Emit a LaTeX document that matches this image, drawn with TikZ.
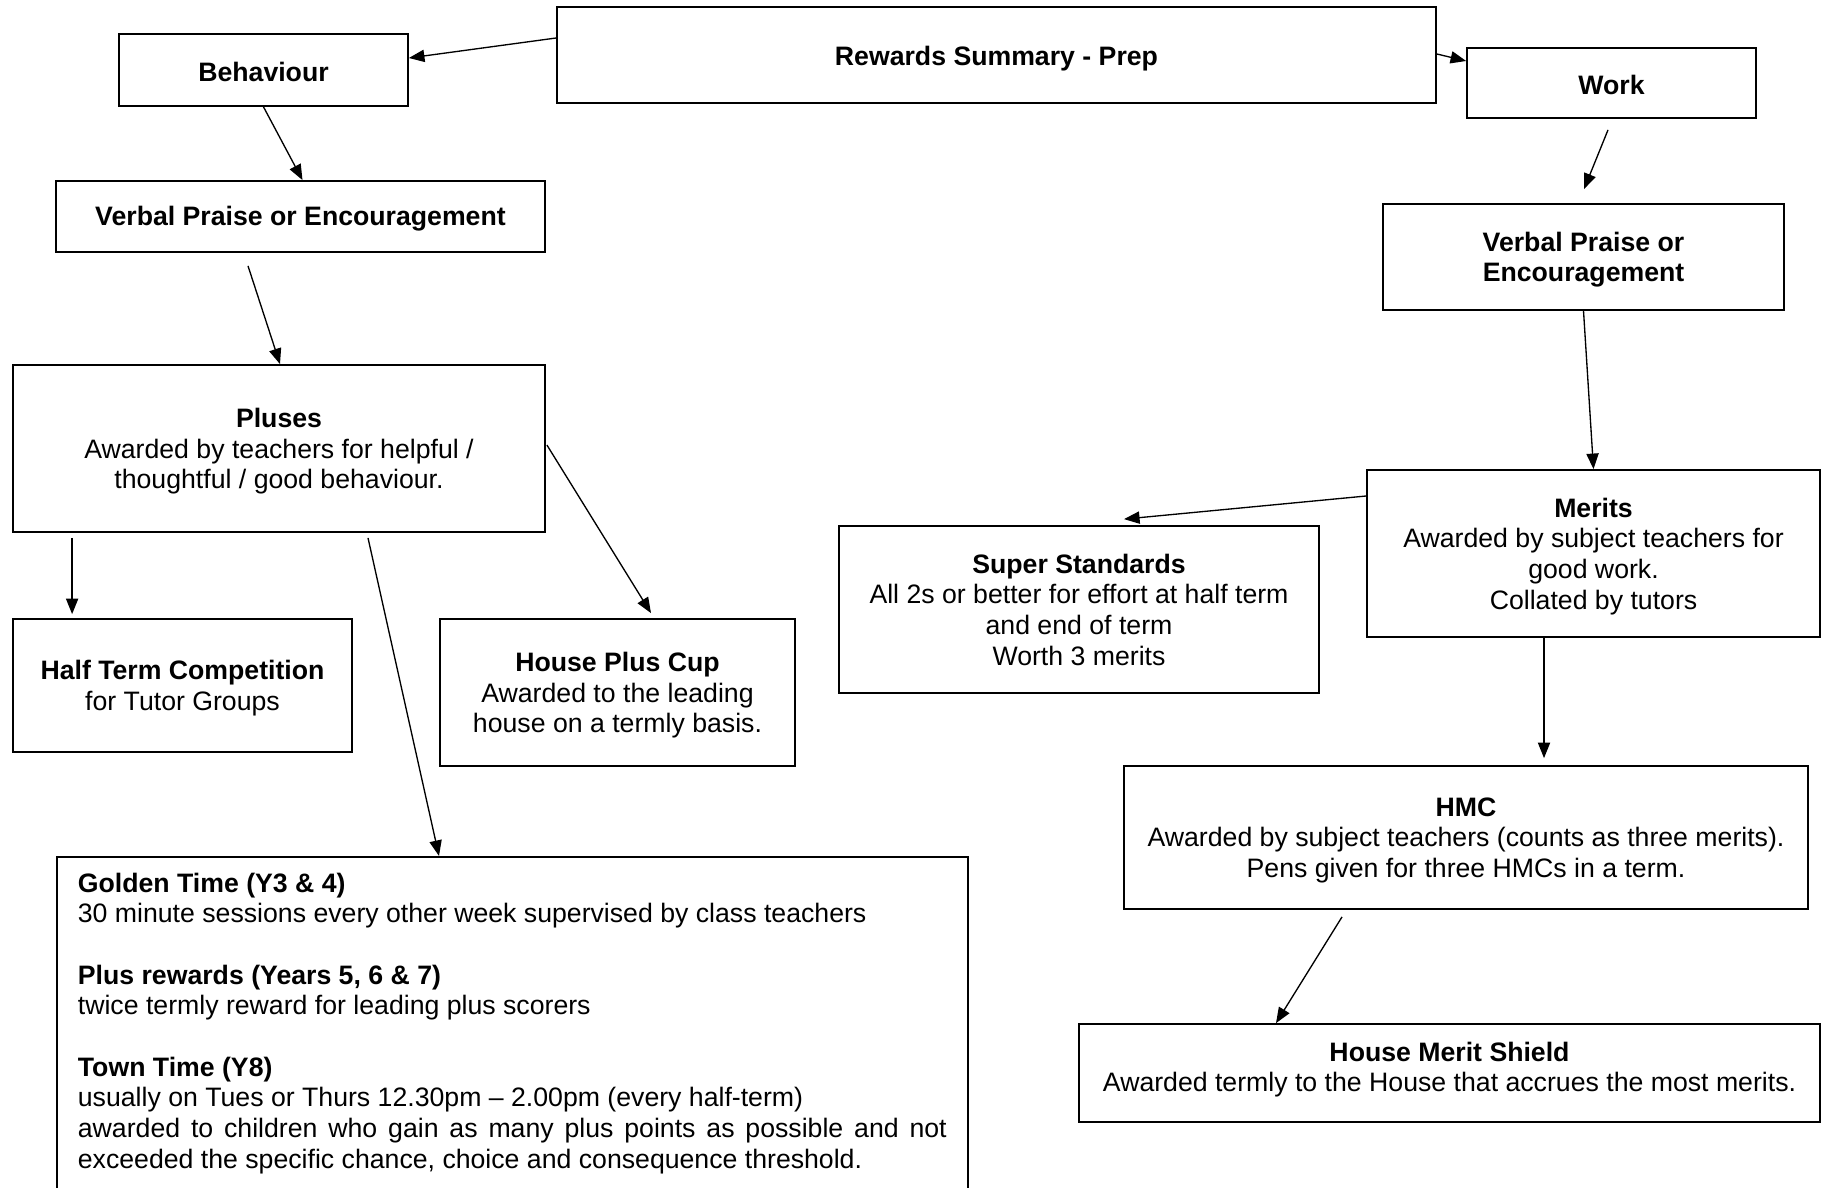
\documentclass[tikz,border=0pt]{standalone}
\usepackage{fontspec}
\setmainfont{Liberation Sans}
\usetikzlibrary{arrows.meta,calc}
\begin{document}
\begin{tikzpicture}[x=0.45pt, y=-0.45pt,
		box/.style={draw=black, line width=0.8pt, inner sep=2pt, align=center, font=\fontsize{12}{13.8}\selectfont},
		textbox/.style={draw=black, line width=0.8pt, align=justify, font=\fontsize{12}{13.8}\selectfont},
		sz/.style 2 args={minimum width=#1*0.45pt, minimum height=#2*0.45pt},
		arr/.style={draw=black, line width=0.6pt, -{Triangle[length=7pt,width=5.5pt]}}]
		\useasboundingbox (0,0) rectangle (1827,1187);
		\clip (0,0) rectangle (1827,1187);
		\node[box, sz={879}{96}, text height=12pt] (rewards) at (996.5,55) {\textbf{Rewards Summary - Prep}};
		\node[box, sz={289}{72}, text height=10.5pt] (behav) at (263.5,70) {\textbf{Behaviour}};
		\node[box, sz={289}{70}, text height=10.5pt] (work) at (1611.5,83) {\textbf{Work}};
		\node[box, sz={489}{71}, text height=10.5pt] (vpl) at (300.5,216.5) {\textbf{Verbal Praise or Encouragement}};
		\node[box, sz={401}{106}, text depth=-1pt] (vpr) at (1583.5,257) {\textbf{Verbal Praise or}\\\textbf{Encouragement}};
		\node[box, sz={532}{167}, text depth=-1pt] (pluses) at (279,448.5) {\textbf{Pluses}\\Awarded by teachers for helpful /\\thoughtful / good behaviour.};
		\node[box, sz={339}{133}, text depth=-1pt] (halfterm) at (182.5,685.5) {\textbf{Half Term Competition}\\for Tutor Groups};
		\node[box, sz={355}{147}, text depth=-1pt] (housecup) at (617.5,692.5) {\textbf{House Plus Cup}\\Awarded to the leading\\house on a termly basis.};
		\node[box, sz={480}{167}] (superstd) at (1079,609.5) {\textbf{Super Standards}\\All 2s or better for effort at half term\\and end of term\\Worth 3 merits};
		\node[box, sz={453}{167}, text depth=-1pt] (merits) at (1593.5,553.5) {\textbf{Merits}\\Awarded by subject teachers for\\good work.\\Collated by tutors};
		\node[box, sz={684}{143}, text depth=-1pt] (hmc) at (1466,837.5) {\textbf{HMC}\\Awarded by subject teachers (counts as three merits).\\Pens given for three HMCs in a term.};
		\node[box, sz={741}{98}, text depth=5.6pt] (shield) at (1449.5,1073) {\textbf{House Merit Shield}\\Awarded termly to the House that accrues the most merits.};
		\node[textbox, anchor=north west, text width=391pt, inner xsep=9.45pt, inner ysep=7.2pt, text depth=134pt] (golden) at (56,856) {\textbf{Golden Time (Y3 \& 4)}\\30 minute sessions every other week supervised by class teachers\\[13.8pt]\textbf{Plus rewards (Years 5, 6 \& 7)}\\twice termly reward for leading plus scorers\\[13.8pt]\textbf{Town Time (Y8)}\\usually on Tues or Thurs 12.30pm – 2.00pm (every half-term)\\awarded to children who gain as many plus points as possible and not\linebreak exceeded the specific chance, choice and consequence threshold.};
		\draw[arr] ($(rewards.west)+(0,-17)$) -- ($(behav.east)+(0,-12)$);
		\draw[arr] ($(rewards.east)+(0,-1)$) -- ($(work.west)+(0,-22)$);
		\draw[arr] (behav.south) -- ($(vpl.north)+(2,0)$);
		\draw[arr] ($(vpl.south)+(-52.5,13)$) -- ($(pluses.north)+(1,0)$);
		\draw[arr] ($(work.south)+(-3.5,11)$) -- ($(vpr.north)+(0.5,-14)$);
		\draw[arr] (vpr.south) -- (merits.north);
		\draw[arr] ($(merits.west)+(0,-57.5)$) -- ($(superstd.north)+(45,-6)$);
		\draw[arr] ($(merits.south)+(-49.5,0)$) -- ($(hmc.north)+(78,-7)$);
		\draw[arr] ($(hmc.south)+(-124,7)$) -- ($(shield.north)+(-173.5,0)$);
		\draw[arr] ($(pluses.south west)+(60,5)$) -- ($(halfterm.north west)+(60,-4)$);
		\draw[arr] ($(pluses.east)+(1,-3.5)$) -- ($(housecup.north)+(33.5,-5)$);
		\draw[arr] ($(pluses.south)+(89,5)$) -- ($(golden.north west)+(383,0)$);
	\end{tikzpicture}
\end{document}
